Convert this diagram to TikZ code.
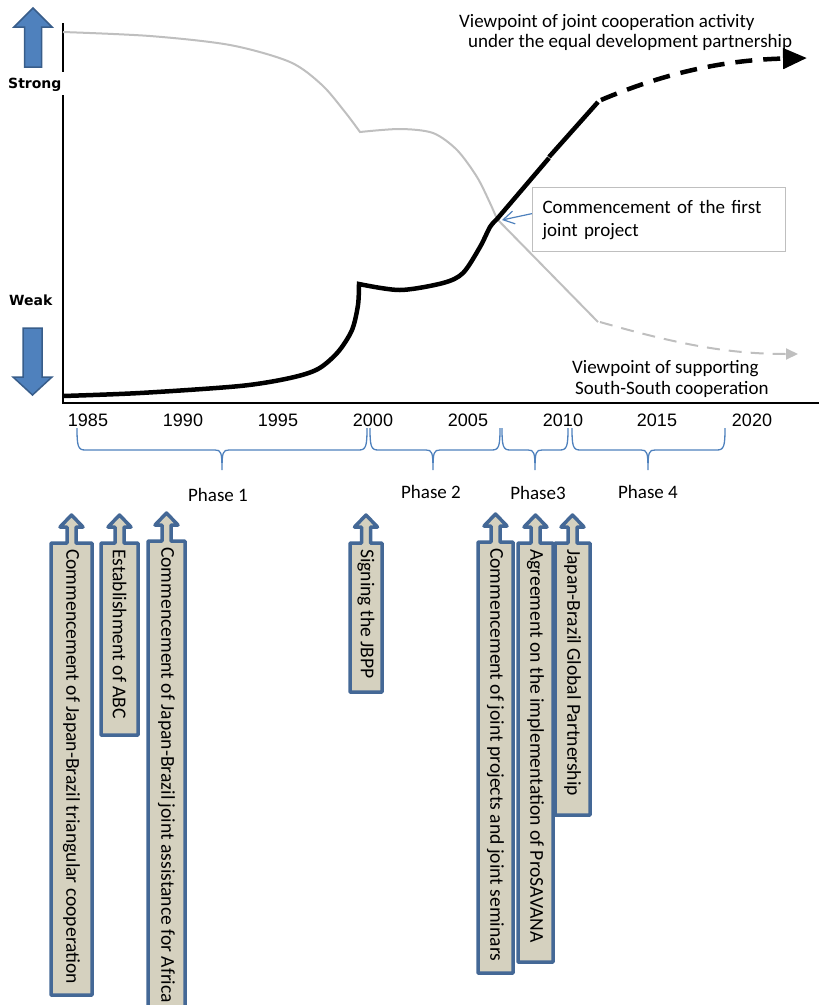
\documentclass[tikz,border=0pt]{standalone}
\usepackage{fontspec}
\setmainfont{Carlito}
\newfontfamily\yearfont{Liberation Sans}
\newfontfamily\axfont{DejaVu Sans}
\usetikzlibrary{arrows.meta}
\definecolor{gline}{RGB}{191,191,191}
\definecolor{bbrace}{RGB}{79,129,189}
\definecolor{arrfill}{RGB}{79,129,189}
\definecolor{arrdraw}{RGB}{56,93,138}
\definecolor{cfill}{RGB}{213,209,191}
\definecolor{cdraw}{RGB}{68,104,150}
\newcommand\mainfs{\fontsize{19}{20}\selectfont}
\newcommand\boxfs{\fontsize{19.6}{22}\selectfont}
\newcommand\upcall[7]{%
  \draw[callshape] (#2,#5) -- (#2,#4) -- (#6-4.5,#4) -- (#6-4.5,#4-16) -- (#6-11.5,#4-16) -- (#6,#4-28) -- (#6+11.5,#4-16) -- (#6+4.5,#4-16) -- (#6+4.5,#4) -- (#3,#4) -- (#3,#5) -- cycle;
  \node[calltext] (#1) at (#6,#4+4) {#7};
}
\newcommand\phbrace[3]{%
  \draw[bracestyle] (#1,428) .. controls (#1,446) and (#1+1,450) .. (#1+8,450) -- (#2-7,450) .. controls (#2-1,450) and (#2,452) .. (#2,470) .. controls (#2,452) and (#2+1,450) .. (#2+7,450) -- (#3-8,450) .. controls (#3-1,450) and (#3,446) .. (#3,428);
}
\tikzset{
  gcurve/.style={draw=gline, line width=2pt},
  bcurve/.style={draw=black, line width=4.5pt},
  axisline/.style={draw=black, line width=2.5pt},
  bigarrow/.style={fill=arrfill, draw=arrdraw, line width=1.5pt, line join=miter},
  bracestyle/.style={draw=bbrace, line width=1.3pt},
  callshape/.style={fill=cfill, draw=cdraw, line width=3.5pt, line join=round},
  calltext/.style={rotate=-90, anchor=west, inner sep=2pt, font=\boxfs},
  yearlab/.style={font=\yearfont\fontsize{18}{20}\selectfont, anchor=base, inner sep=0pt},
  txt/.style={font=\mainfs, inner sep=0pt, anchor=base west},
  phaselab/.style={font=\mainfs, inner sep=0pt, anchor=base},
  axlab/.style={font=\axfont\bfseries\fontsize{14}{16}\selectfont, inner sep=0pt, anchor=base west},
  notebox/.style={draw=gline, line width=1.2pt, fill=white, anchor=north west, minimum width=253pt, minimum height=64pt, text width=233pt, inner xsep=10pt, align=left, font=\fontsize{19}{23}\selectfont},
  notearrow/.style={draw=bbrace, line width=1.2pt, -{Straight Barb[length=11pt,width=13pt]}}
}
\begin{document}
\begin{tikzpicture}[x=1pt,y=-1pt]
\useasboundingbox (0,0) rectangle (819,1005);
% axes
\draw[axisline] (63,23) -- (63,72);
\draw[axisline] (63,95) -- (63,403) -- (819,403);
% strong / weak arrows
\draw[bigarrow] (24.5,67) -- (24.5,27) -- (14,27) -- (33,8) -- (52,27) -- (41.5,27) -- (41.5,67) -- cycle;
\draw[bigarrow] (23,328) -- (42,328) -- (42,377) -- (52,377) -- (32.5,395) -- (13,377) -- (23,377) -- cycle;
\node[axlab] (strong) at (8,88) {Strong};
\node[axlab] (weak) at (9,305) {Weak};
% gray curve
\draw[gcurve] plot[smooth,tension=0.5] coordinates {(63,32) (150,36) (230,45) (290,62) (322,85) (345,112) (360,132)}
  -- plot[smooth,tension=0.5] coordinates {(360,132) (400,129) (433,133) (457,150) (477,177) (490,203) (497,219)} -- (598,322);
\draw[gcurve, dash pattern=on 13pt off 9pt, -{Triangle[length=12pt,width=11pt]}] (600,322) .. controls (680,345) and (730,354) .. (798,354);
% black curve
\draw[bcurve] plot[smooth,tension=0.5] coordinates {(63,396) (140,393) (240,386) (290,378) (318,369) (338,352) (352,330) (358,305) (359,284)}
  -- plot[smooth,tension=0.5] coordinates {(359,284) (400,290) (443,283) (463,273) (480,247) (490,227) (497,219)} -- (549,158);
\draw[bcurve] (549,157) -- (598,102);
\draw[bcurve, dash pattern=on 17pt off 11pt, -{Triangle[length=24pt,width=20pt]}] (601,100) .. controls (660,75) and (720,60) .. (807,58);
% labels of the curves
\node[txt] (vp1a) at (459,27) {Viewpoint of joint cooperation activity};
\node[txt] (vp1b) at (468,47) {under the equal development partnership};
\node[txt] (vp2a) at (572,373) {Viewpoint of supporting};
\node[txt] (vp2b) at (575,394) {South-South cooperation};
% callout
\coordinate (cross) at (502,220);
\node[notebox] (cbox) at (532,187) {Commencement of the first\\joint project};
\draw[notearrow] ([yshift=6pt]cbox.west) -- (cross);
% years
\node[yearlab] (y1985) at (88,426) {1985};
\node[yearlab] (y1990) at (183,426) {1990};
\node[yearlab] (y1995) at (278,426) {1995};
\node[yearlab] (y2000) at (373,426) {2000};
\node[yearlab] (y2005) at (468,426) {2005};
\node[yearlab] (y2010) at (563,426) {2010};
\node[yearlab] (y2015) at (657,426) {2015};
\node[yearlab] (y2020) at (752,426) {2020};
% phases
\phbrace{77}{222}{367}
\phbrace{370}{433}{500}
\phbrace{502}{535}{568}
\phbrace{572}{648}{725}
\node[phaselab] (ph1) at (218,501) {Phase 1};
\node[phaselab] (ph2) at (431,498) {Phase 2};
\node[phaselab] (ph3) at (538,499) {Phase3};
\node[phaselab] (ph4) at (648,498) {Phase 4};
% events
\upcall{e1}{51}{92}{543}{995}{71.5}{Commencement of Japan-Brazil triangular cooperation}
\upcall{e2}{101}{138}{543}{735}{119.5}{Establishment of ABC}
\upcall{e3}{148}{185}{541}{1015}{166.5}{Commencement of Japan-Brazil joint assistance for Africa}
\upcall{e4}{350}{382}{543}{692}{366}{Signing the JBPP}
\upcall{e5}{478}{513}{542}{973}{495.5}{Commencement of joint projects and joint seminars}
\upcall{e6}{518}{553}{543}{962}{535.5}{Agreement on the implementation of ProSAVANA}
\upcall{e7}{555}{590}{543}{815}{572.5}{Japan-Brazil Global Partnership}
\end{tikzpicture}
\end{document}
